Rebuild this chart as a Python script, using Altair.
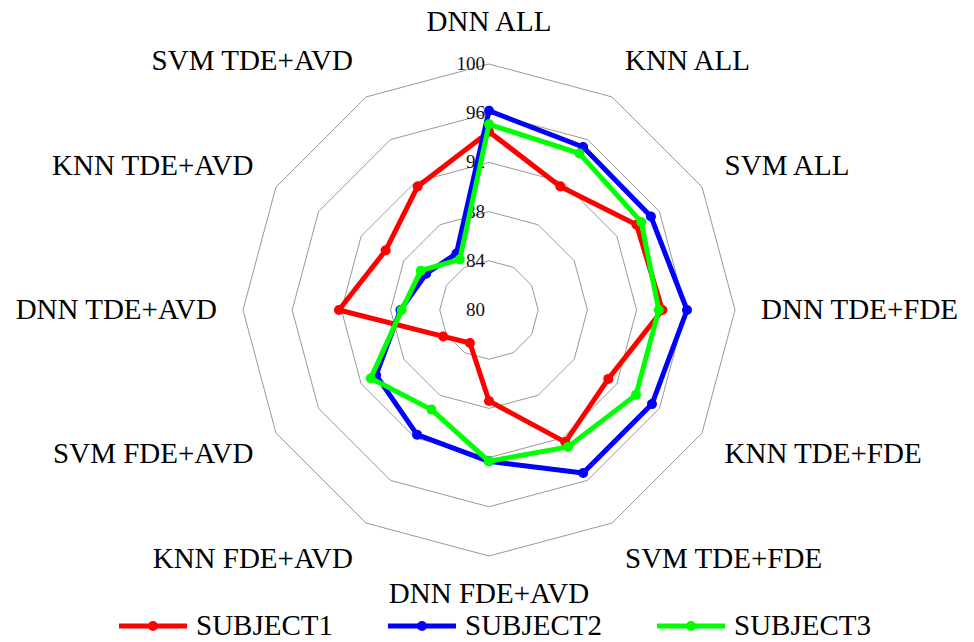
import altair as alt
import numpy as np
import pandas as pd

# ---------------- data ----------------
categories = ["DNN ALL", "KNN ALL", "SVM ALL", "DNN TDE+FDE", "KNN TDE+FDE",
              "SVM TDE+FDE", "DNN FDE+AVD", "KNN FDE+AVD", "SVM FDE+AVD",
              "DNN TDE+AVD", "KNN TDE+AVD", "SVM TDE+AVD"]
subject1 = [94.5, 91.6, 93.85, 94.1, 91.2, 92.4, 87.4, 83.1, 84.3, 92.2, 89.7, 91.6]
subject2 = [96.2, 95.3, 95.2, 96.1, 95.3, 95.3, 92.3, 91.7, 90.6, 87.2, 85.9, 85.3]
subject3 = [95.1, 94.7, 94.3, 93.8, 93.8, 92.85, 92.3, 89.35, 91.1, 87.1, 86.4, 84.75]
series_names = ["SUBJECT1", "SUBJECT2", "SUBJECT3"]
series_values = [subject1, subject2, subject3]
series_colors = ["#ff0000", "#0000ff", "#00ff00"]
grid_levels = [84, 88, 92, 96, 100]
tick_labels = [80, 84, 88, 92, 96, 100]
r_min, r_max = 80, 100

# ---------------- layout constants (pixels) ----------------
W, H = 974, 642
CX, CY = 489, 310
R_PX = 246
K = R_PX / (r_max - r_min)          # pixels per data unit
FONT = "Liberation Serif"

n = len(categories)
theta = np.arange(n) * 2 * np.pi / n

def polar(v, t):
    r = v - r_min
    return r * np.sin(t), r * np.cos(t)

xscale = alt.Scale(domain=[-CX / K, (W - CX) / K], nice=False, zero=False)
yscale = alt.Scale(domain=[-(H - CY) / K, CY / K], nice=False, zero=False)

def X(field):
    return alt.X(field, type="quantitative", scale=xscale, axis=None)

def Y(field):
    return alt.Y(field, type="quantitative", scale=yscale, axis=None)

# grid polygons
grid_rows = []
for lv in grid_levels:
    for i in range(n + 1):
        t = theta[i % n]
        x, y = polar(lv, t)
        grid_rows.append({"level": lv, "order": i, "x": x, "y": y})
grid_df = pd.DataFrame(grid_rows)
grid = alt.Chart(grid_df).mark_line(color="#999999", strokeWidth=1).encode(
    x=X("x"), y=Y("y"), detail="level:N", order="order:Q")

# radial tick labels
tick_df = pd.DataFrame({"label": [str(v) for v in tick_labels],
                        "x": [0.0] * len(tick_labels),
                        "y": [v - r_min for v in tick_labels]})
ticks = alt.Chart(tick_df).mark_text(font=FONT, fontSize=19, align="right",
                                     baseline="middle", dx=-4, color="#111").encode(
    x=X("x"), y=Y("y"), text="label:N")

# category labels
LX, LY, LY_BOTTOM = 272, 288, 284
lab_rows = []
for i, c in enumerate(categories):
    s, co = np.sin(theta[i]), np.cos(theta[i])
    al = "left" if s > 0.01 else ("right" if s < -0.01 else "center")
    ly = LY_BOTTOM if co < -0.99 else LY
    lab_rows.append({"cat": c, "x": LX * s / K, "y": ly * co / K, "al": al})
lab_df = pd.DataFrame(lab_rows)
cat_layers = []
for al in ["left", "right", "center"]:
    cat_layers.append(
        alt.Chart(lab_df).transform_filter(alt.datum.al == al)
        .mark_text(font=FONT, fontSize=29, align=al, baseline="middle", color="#000")
        .encode(x=X("x"), y=Y("y"), text="cat:N"))

# series
series_layers = []
for name, vals, col in zip(series_names, series_values, series_colors):
    rows = []
    for i in range(n + 1):
        t = theta[i % n]
        x, y = polar(vals[i % n], t)
        rows.append({"series": name, "order": i, "x": x, "y": y,
                     "category": categories[i % n], "value": vals[i % n]})
    df = pd.DataFrame(rows)
    line = alt.Chart(df).mark_line(color=col, strokeWidth=5, strokeJoin="round").encode(
        x=X("x"), y=Y("y"), order="order:Q")
    pts = alt.Chart(df[df.order < n]).mark_point(filled=True, color=col, size=100, opacity=1).encode(
        x=X("x"), y=Y("y"), tooltip=["series:N", "category:N", "value:Q"])
    series_layers += [line, pts]

# legend (manual)
LEG_Y = 626
LEG_X0, LEG_STEP = 153, 269
leg_rows = []
for i, (name, col) in enumerate(zip(series_names, series_colors)):
    cxp = LEG_X0 + i * LEG_STEP
    leg_rows.append({"series": name, "col": col,
                     "x1": (cxp - 34 - CX) / K, "x2": (cxp + 34 - CX) / K,
                     "xm": (cxp - CX) / K, "xt": (cxp + 43 - CX) / K,
                     "y": (CY - LEG_Y) / K})
leg_df = pd.DataFrame(leg_rows)
cscale = alt.Scale(domain=series_names, range=series_colors)
leg_line = alt.Chart(leg_df).mark_rule(strokeWidth=5).encode(
    x=X("x1"), x2="x2:Q", y=Y("y"),
    color=alt.Color("series:N", scale=cscale, legend=None))
leg_pt = alt.Chart(leg_df).mark_point(filled=True, size=100, opacity=1).encode(
    x=X("xm"), y=Y("y"), color=alt.Color("series:N", scale=cscale, legend=None))
leg_txt = alt.Chart(leg_df).mark_text(font=FONT, fontSize=29, align="left",
                                      baseline="middle", color="#000").encode(
    x=X("xt"), y=Y("y"), text="series:N")

chart = alt.layer(grid, ticks, *series_layers, *cat_layers, leg_line, leg_pt, leg_txt).properties(
    width=W, height=H, autosize=alt.AutoSizeParams(type="none"), padding=0,
    background="white"
).configure_view(stroke=None)

chart.save("out.html", embed_options={"renderer": "svg", "actions": False})
